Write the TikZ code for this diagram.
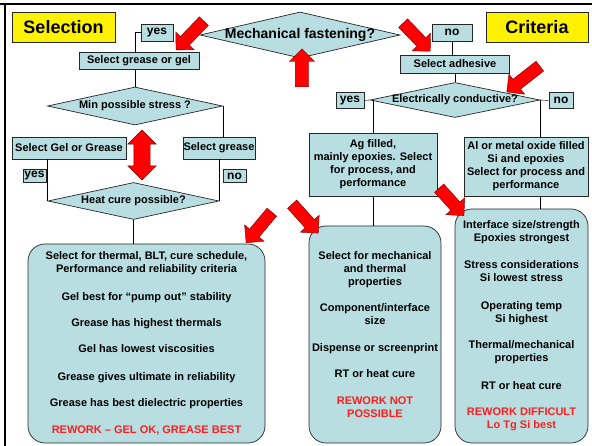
\documentclass[tikz,border=0pt]{standalone}
\usepackage{fontspec}
\setmainfont{Liberation Sans}
\usetikzlibrary{shapes.geometric,shapes.arrows}
\definecolor{boxblue}{RGB}{184,222,226}
\definecolor{textred}{RGB}{255,30,30}
\tikzstyle{boxb}=[draw=black!85,line width=0.7pt,fill=boxblue,inner sep=0pt,align=center,font=\bfseries\fontsize{11}{13}\selectfont]
\tikzstyle{bigb}=[boxb,rounded corners=17pt]
\tikzstyle{answ}=[boxb,font=\bfseries\fontsize{12}{13}\selectfont]
\tikzstyle{labely}=[draw=black!85,line width=0.7pt,fill=yellow,inner sep=0pt,minimum height=30pt,font=\bfseries\fontsize{18}{20}\selectfont]
\tikzstyle{decb}=[diamond,draw=black!85,line width=0.7pt,fill=boxblue,inner sep=0pt]
\tikzstyle{dtext}=[inner sep=0pt,font=\bfseries\fontsize{11}{13}\selectfont]
\tikzstyle{arrowr}=[single arrow,fill=red,draw=red!45!black,line width=0.4pt,inner xsep=0pt,inner ysep=6pt,single arrow head extend=6.5pt,anchor=tail]

\begin{document}
\begin{tikzpicture}[x=1pt,y=-1pt]
    \useasboundingbox (0,0) rectangle (592,446);
    \draw[line width=1.8pt] (0,4) -- (592,4);
    \draw[line width=1.8pt] (5,4) -- (5,446);

    \node[labely,minimum width=103pt] (sel) at (63.5,27) {Selection};
    \node[labely,minimum width=102pt] (crit) at (537,27) {Criteria};

    % top question
    \node[decb,minimum width=200pt,minimum height=46pt] (mech) at (300,35) {};
    \node[dtext,font=\bfseries\fontsize{14}{16}\selectfont] (mecht) at (mech) {Mechanical fastening?};
    \node[answ,minimum width=32pt,minimum height=17pt] (yesT) at (157,32.5) {yes};
    \node[answ,minimum width=40pt,minimum height=17pt] (noT) at (452,32.5) {no};

    % left branch
    \node[boxb,minimum width=120pt,minimum height=17pt] (grease) at (139,60.5) {Select grease or gel};
    \node[decb,minimum width=175pt,minimum height=38pt] (stress) at (135,106) {};
    \node[dtext] (stresst) at (stress) {Min possible stress ?};
    \node[boxb,minimum width=114pt,minimum height=22pt] (gelgr) at (69,148) {Select Gel or Grease};
    \node[boxb,minimum width=72pt,minimum height=22pt] (selgr) at (219,148) {Select grease};
    \node[answ,minimum width=23pt,minimum height=13pt] (yesL) at (34.5,176) {yes};
    \node[answ,minimum width=23pt,minimum height=13pt] (noL) at (234.5,176) {no};
    \node[decb,minimum width=171pt,minimum height=37pt] (heat) at (133.5,201) {};
    \node[dtext] (heatt) at (heat) {Heat cure possible?};
    \node[bigb,minimum width=237pt,minimum height=199pt] (leftb) at (146.5,343.5) {%
        Select for thermal, BLT, cure schedule,\\ Performance and reliability criteria\\[15pt]
        Gel best for ``pump out'' stability\\[13pt]
        Grease has highest thermals\\[13pt]
        Gel has lowest viscosities\\[15pt]
        Grease gives ultimate in reliability\\[13pt]
        Grease has best dielectric properties\\[14pt]
        \textcolor{textred}{REWORK -- GEL OK, GREASE BEST}};

    % right branch
    \node[boxb,minimum width=109pt,minimum height=18pt] (adh) at (455,64) {Select adhesive};
    \node[decb,minimum width=170pt,minimum height=35pt] (elec) at (455,100) {};
    \node[dtext] (elect) at (elec) {Electrically conductive?};
    \node[answ,minimum width=28pt,minimum height=16pt] (yesR) at (350,100.5) {yes};
    \node[answ,minimum width=24pt,minimum height=16pt] (noR) at (561,100.5) {no};
    \node[boxb,minimum width=128pt,minimum height=63pt] (ag) at (373,164.5) {Ag filled,\\ mainly epoxies. Select\\ for process, and\\ performance};
    \node[boxb,minimum width=124pt,minimum height=59pt] (al) at (526,166.5) {Al or metal oxide filled\\ Si and epoxies\\ Select for process and\\ performance};
    \node[bigb,minimum width=132pt,minimum height=217pt] (midb) at (375,334.5) {%
        Select for mechanical\\ and thermal\\ properties\\[13pt]
        Component/interface\\ size\\[14pt]
        Dispense or screenprint\\[13pt]
        RT or heat cure\\[14pt]
        \textcolor{textred}{REWORK NOT}\\ \textcolor{textred}{POSSIBLE}};
    \node[bigb,minimum width=133pt,minimum height=234pt] (rightb) at (521.5,326) {%
        Interface size/strength\\ Epoxies strongest\\[14pt]
        Stress considerations\\ Si lowest stress\\[15pt]
        Operating temp\\ Si highest\\[13pt]
        Thermal/mechanical\\ properties\\[15pt]
        RT or heat cure\\[13pt]
        \textcolor{textred}{REWORK DIFFICULT}\\ \textcolor{textred}{Lo Tg Si best}};

    % bends of the connectors
    \coordinate (gt) at (stress.north |- grease.north);
    \coordinate (gb) at (stress.north |- grease.south);
    \coordinate (sg) at (stress.east |- selgr.north);
    \coordinate (gg) at (heat.west |- gelgr.south);
    \coordinate (sh) at (heat.east |- selgr.south);
    \coordinate (lb) at (heat.south |- leftb.north);
    \coordinate (na) at (noT.south |- adh.north);
    \coordinate (ea) at (ag.north |- elec.west);
    \coordinate (el) at (elec.east |- al.north);
    \coordinate (mb) at (ag.south |- midb.north);
    \coordinate (as) at (elec.east |- al.south);
    \coordinate (rb) at (elec.east |- rightb.north);

    \draw (yesT.west) -| (gt);
    \foreach \from/\to in {gb/stress.north,stress.east/sg,gg/heat.west,sh/heat.east,heat.south/lb,noT.south/na,adh.south/elec.north,yesR.east/elec.west,elec.east/noR.west,ea/ag.north,elec.east/el,ag.south/mb,as/rb}
    \draw (\from) -- (\to);

    % red arrows
    \node[arrowr,rotate=226,minimum height=40pt] (a1) at (204,21) {};
    \node[arrowr,rotate=90,minimum height=38pt,inner ysep=6.5pt,single arrow head extend=6pt] (a2) at (302,87) {};
    \node[arrowr,rotate=-46,minimum height=39pt] (a3) at (403,23) {};
    \node[arrowr,rotate=218,minimum height=42pt] (a4) at (540,66) {};
    \node[arrowr,rotate=230,minimum height=40pt] (a5) at (272,212) {};
    \node[arrowr,rotate=-48,minimum height=39pt] (a6) at (292,204) {};
    \node[arrowr,rotate=-48,minimum height=37pt] (a7) at (439,188) {};
    \node[double arrow,fill=red,draw=red!45!black,line width=0.4pt,inner xsep=0pt,inner ysep=8pt,double arrow head extend=6pt,minimum height=50pt,rotate=90] (both) at (142,155) {};
\end{tikzpicture}
\end{document}
